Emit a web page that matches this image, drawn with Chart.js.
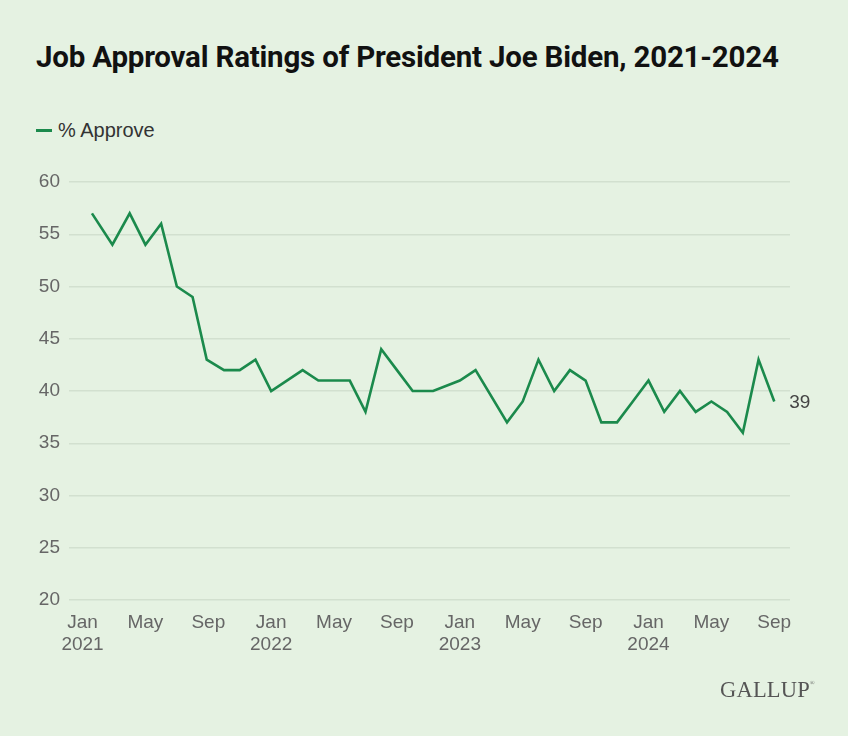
<!DOCTYPE html>
<html>
<head>
<meta charset="utf-8">
<script src="https://cdn.jsdelivr.net/npm/chart.js@4.4.1/dist/chart.umd.min.js"></script>
<style>
  html, body { margin: 0; padding: 0; }
  body { width: 848px; height: 736px; background: #e5f2e2; position: relative; overflow: hidden; font-family: "Liberation Sans", Arial, sans-serif; }
  #title { position: absolute; left: 36px; top: 40px; font-family: Roboto, sans-serif; font-weight: 700; font-size: 29.5px; color: #111; letter-spacing: -0.2px; white-space: nowrap; }
  #legend { position: absolute; left: 36px; top: 119px; font-size: 20px; color: #333; display: flex; align-items: center; }
  #legend span.swatch { display: inline-block; width: 16px; height: 3px; background: #1b8a4c; margin-right: 6px; }
  #logo { position: absolute; left: 720px; top: 677px; font-family: "Liberation Serif", "DejaVu Serif", serif; font-size: 22.5px; color: #555; letter-spacing: 0.2px; }
  #logo sup { font-size: 6px; vertical-align: top; position: relative; top: 3px; }
  #wrap { position: absolute; left: 0; top: 0; width: 848px; height: 736px; }
</style>
</head>
<body>
<div id="title">Job Approval Ratings of President Joe Biden, 2021-2024</div>
<div id="legend"><span class="swatch"></span>% Approve</div>
<div id="wrap"><canvas id="approvalChart"></canvas></div>
<div id="logo">GALLUP<sup>®</sup></div>
<script>
// months counted from Jan 2021 (0 = Jan 2021)
const monthIndex = [0.6, 1.9, 3, 4, 5, 6, 7, 7.9, 9, 10, 11, 12,
  13, 14, 15, 16, 17, 18, 19, 20, 21, 22.3,
  24, 25, 27, 28, 29, 30, 31, 32, 33, 34,
  35, 36, 37, 38, 39, 40, 41, 42, 43, 44];
const approve = [57, 54, 57, 54, 56, 50, 49, 43, 42, 42, 43, 40,
  41, 42, 41, 41, 41, 38, 44, 42, 40, 40,
  41, 42, 37, 39, 43, 40, 42, 41, 37, 37,
  39, 41, 38, 40, 38, 39, 38, 36, 43, 39];

const tickMonths = [0, 4, 8, 12, 16, 20, 24, 28, 32, 36, 40, 44];
const tickNames = ['Jan', 'May', 'Sep', 'Jan', 'May', 'Sep', 'Jan', 'May', 'Sep', 'Jan', 'May', 'Sep'];
const tickYears = ['2021', '', '', '2022', '', '', '2023', '', '', '2024', '', ''];
const yTicks = [20, 25, 30, 35, 40, 45, 50, 55, 60];

const lineColor = '#1b8a4c';
const tickFont = '"Liberation Sans", Arial, sans-serif';

// etiquette de la derniere valeur
const endLabel = {
    id: 'endLabel',
    afterDatasetsDraw(chart) {
        const meta = chart.getDatasetMeta(0);
        const last = meta.data[meta.data.length - 1];
        const ctx = chart.ctx;
        ctx.save();
        ctx.font = '19px ' + tickFont;
        ctx.fillStyle = '#444';
        ctx.textAlign = 'left';
        ctx.textBaseline = 'middle';
        ctx.fillText(String(approve[approve.length - 1]), last.x + 15, last.y + 1);
        ctx.restore();
    }
};

const ctx = document.getElementById('approvalChart');
new Chart(ctx, {
    type: 'line',
    data: {
        datasets: [{
            label: '% Approve',
            data: monthIndex.map((m, i) => ({ x: m, y: approve[i] })),
            borderColor: lineColor,
            borderWidth: 2.6,
            pointRadius: 0,
            tension: 0,
            fill: false
        }]
    },
    options: {
        responsive: true,
        maintainAspectRatio: false,
        animation: false,
        layout: { padding: { left: 37, right: 58, top: 182, bottom: 76 } },
        plugins: {
            legend: { display: false },
            tooltip: { enabled: false }
        },
        scales: {
            x: {
                type: 'linear',
                min: -0.86,
                max: 45,
                afterBuildTicks: scale => { scale.ticks = tickMonths.map(v => ({ value: v })); },
                afterFit: scale => { scale.height = 60; },
                grid: { display: false },
                border: { display: false },
                ticks: {
                    autoSkip: false,
                    maxRotation: 0,
                    padding: 3,
                    color: '#666',
                    font: { family: tickFont, size: 19, lineHeight: 1.2 },
                    callback: (value) => {
                        const i = tickMonths.indexOf(value);
                        if (i < 0) return '';
                        return tickYears[i] ? [tickNames[i], tickYears[i]] : tickNames[i];
                    }
                }
            },
            y: {
                min: 20,
                max: 60,
                afterBuildTicks: scale => { scale.ticks = yTicks.map(v => ({ value: v })); },
                afterFit: scale => { scale.width = 32; },
                grid: { color: '#d2e0cf', lineWidth: 1.5, drawTicks: false },
                border: { display: false },
                ticks: {
                    padding: 9,
                    color: '#666',
                    font: { family: tickFont, size: 19 }
                }
            }
        }
    },
    plugins: [endLabel]
});
</script>
</body>
</html>
